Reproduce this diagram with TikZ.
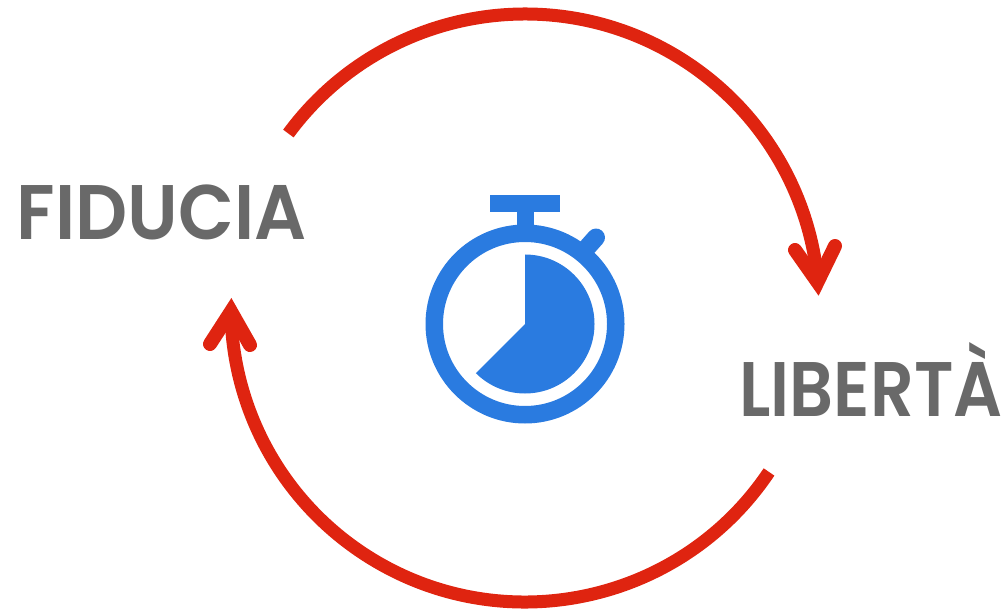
\documentclass[tikz,border=0pt]{standalone}
\usepackage{fontspec}
\setmainfont{Poppins}
\newfontfamily\wordfont{Poppins SemiBold}
\definecolor{doRed}{HTML}{DF2410}
\definecolor{doBlue}{HTML}{2A7BE0}
\definecolor{doGray}{HTML}{696969}
\tikzset{
	word/.style={anchor=base,inner sep=0pt,text=doGray,font=\fontsize{44}{44}\wordfont},
	shaft/.style={draw=doRed,line width=0.26cm,line cap=butt},
	head/.style={draw=doRed,line width=0.28cm,line cap=round,line join=miter}
}
\begin{document}
\begin{tikzpicture}
	\def\R{5.88} % ban kinh vong do
	\useasboundingbox (0,0) rectangle (20.1,12.18);
	\path
	(10.5,6.02) coordinate (O)
	(O) ++(143.6:\R) coordinate (topStart)
	(O) ++(-33.9:\R) coordinate (botStart)
	(16.35,6.54) coordinate (topTip)
	(15.9,7.18) coordinate (topLeft)
	(16.7,7.26) coordinate (topRight)
	(4.62,5.95) coordinate (botTip)
	(4.2,5.3) coordinate (botLeft)
	(5.0,5.28) coordinate (botRight)
	(10.5,5.70) coordinate (W);
	% hai chu
	\node[word] (fiducia) at (3.23,7.38) {\scalebox{0.94}[1]{FIDUCIA}};
	\node[word] (liberta) at (17.42,3.86) {\scalebox{0.885}[1]{LIBERTÀ}};
	% hai cung tron
	\draw[shaft] (topStart) arc [radius=\R, start angle=143.6, end angle=5];
	\draw[shaft] (botStart) arc [radius=\R, start angle=-33.9, end angle=-178];
	\draw[head] (topLeft)--(topTip)--(topRight);
	\draw[head] (botLeft)--(botTip)--(botRight);
	% dong ho
	\draw[doBlue,line width=0.35cm] (W) circle (1.815);
	\fill[doBlue] (W) -- ++(90:1.39) arc [radius=1.39, start angle=90, end angle=-135] -- cycle;
	\fill[doBlue] (9.8,8.28) rectangle (11.2,7.93);
	\fill[doBlue] (10.33,8) rectangle (10.67,7.4);
	\draw[doBlue,line width=0.36cm,line cap=round] (11.68,7.16)--(11.92,7.43);
\end{tikzpicture}
\end{document}
